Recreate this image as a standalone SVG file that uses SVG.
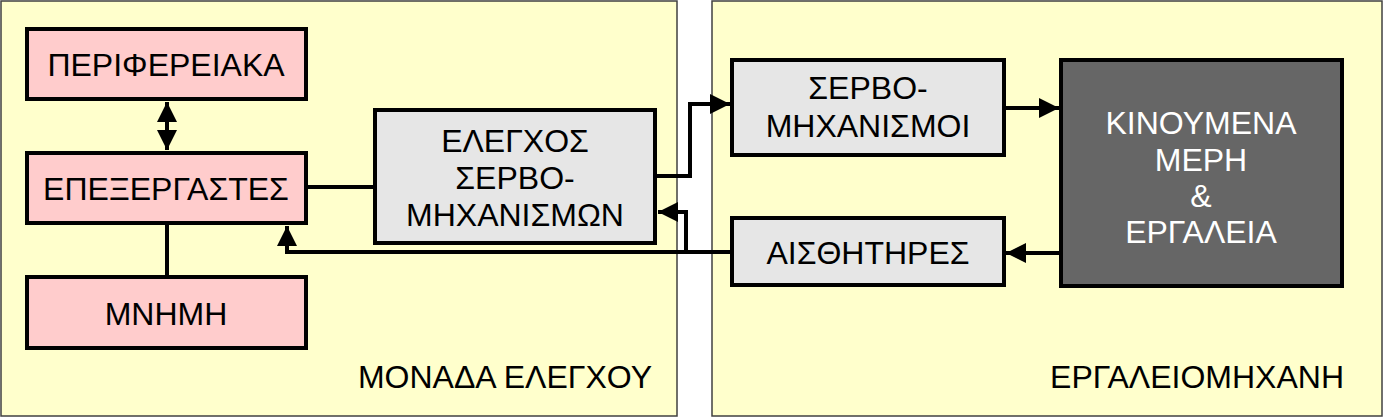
<svg xmlns="http://www.w3.org/2000/svg" width="1384" height="419" viewBox="0 0 1384 419">
<style>
.panel{fill:#ffffcc;stroke:#404040;stroke-width:1.5}
.pink{fill:#ffcccc;stroke:#000;stroke-width:4}
.grey{fill:#e6e6e6;stroke:#000;stroke-width:4}
.dark{fill:#666;stroke:#000;stroke-width:4}
text{font-family:"Liberation Sans",Arial,sans-serif;font-size:32px;fill:#000;text-anchor:middle}
.w{fill:#fff}
.c{fill:none;stroke:#000;stroke-width:4}
</style>
<defs>
<marker id="a" viewBox="0 0 10 10" refX="10" refY="5" markerWidth="5" markerHeight="5" markerUnits="strokeWidth" orient="auto-start-reverse"><path d="M0,0L10,5L0,10z" fill="#000"/></marker>
</defs>
<g id="panel-control"><rect class="panel" x="1" y="1" width="676" height="415"/><text x="652" y="388" style="text-anchor:end">ΜΟΝΑΔΑ ΕΛΕΓΧΟΥ</text></g>
<g id="panel-machine"><rect class="panel" x="712" y="1" width="670" height="415"/><text x="1344" y="388" style="text-anchor:end">ΕΡΓΑΛΕΙΟΜΗΧΑΝΗ</text></g>
<g id="connectors">
<path class="c" d="M167,102V150" marker-start="url(#a)" marker-end="url(#a)"/>
<path class="c" d="M167,223V277"/>
<path class="c" d="M306,187H375"/>
<path class="c" d="M655,176H690V104H730" marker-end="url(#a)"/>
<path class="c" d="M732,252H287V226" marker-end="url(#a)"/>
<path class="c" d="M686,252V212H658" marker-end="url(#a)"/>
<path class="c" d="M1004,108H1059" marker-end="url(#a)"/>
<path class="c" d="M1061,253H1006" marker-end="url(#a)"/>
</g>
<g id="n-perif"><rect class="pink" x="27" y="29" width="279" height="70"/><text x="166" y="76">ΠΕΡΙΦΕΡΕΙΑΚΑ</text></g>
<g id="n-epex"><rect class="pink" x="27" y="153" width="279" height="70"/><text x="166" y="200">ΕΠΕΞΕΡΓΑΣΤΕΣ</text></g>
<g id="n-mnhmh"><rect class="pink" x="27" y="277" width="279" height="71"/><text x="166" y="325">ΜΝΗΜΗ</text></g>
<g id="n-elegxos"><rect class="grey" x="375" y="110" width="280" height="133"/><text x="515" y="152">ΕΛΕΓΧΟΣ</text><text x="515" y="189">ΣΕΡΒΟ-</text><text x="515" y="226">ΜΗΧΑΝΙΣΜΩΝ</text></g>
<g id="n-servo"><rect class="grey" x="732" y="60" width="272" height="95"/><text x="868" y="99">ΣΕΡΒΟ-</text><text x="868" y="137">ΜΗΧΑΝΙΣΜΟΙ</text></g>
<g id="n-aisth"><rect class="grey" x="732" y="218" width="272" height="67"/><text x="868" y="264">ΑΙΣΘΗΤΗΡΕΣ</text></g>
<g id="n-kinoumena"><rect class="dark" x="1061" y="60" width="281" height="226"/><text class="w" x="1201" y="134">ΚΙΝΟΥΜΕΝΑ</text><text class="w" x="1201" y="171">ΜΕΡΗ</text><text class="w" x="1201" y="207">&amp;</text><text class="w" x="1201" y="243">ΕΡΓΑΛΕΙΑ</text></g>
</svg>
